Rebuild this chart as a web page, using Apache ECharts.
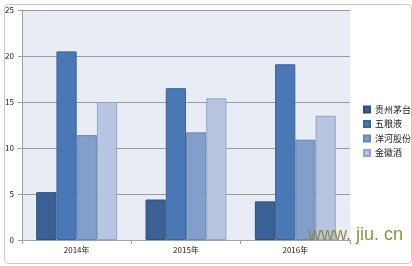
<!DOCTYPE html>
<html><head><meta charset="utf-8">
<script src="https://cdn.jsdelivr.net/npm/echarts@6/dist/echarts.min.js"></script>
<style>html,body{margin:0;padding:0;background:#fff}#c{width:412px;height:266px}</style>
</head><body><div id="c"></div>
<script>
const categories = ['2014年', '2015年', '2016年'];
const seriesNames = ['贵州茅台', '五粮液', '洋河股份', '金徽酒'];
const moutai = [5.2, 4.4, 4.2];
const wuliangye = [20.5, 16.5, 19.1];
const yanghe = [11.4, 11.7, 10.9];
const jinhui = [15.0, 15.4, 13.5];
const seriesValues = [moutai, wuliangye, yanghe, jinhui];
const colors = ['#3b6194', '#4a78b5', '#829ecb', '#b7c5e1'];
const borders = ['#2f4f7a', '#3c6498', '#6a86b3', '#93a5c6'];

const chart = echarts.init(document.getElementById('c'), null, {renderer: 'canvas'});
chart.setOption({
  animation: false,
  backgroundColor: '#ffffff',
  textStyle: {fontFamily: '"Noto Sans CJK SC", "DejaVu Sans", sans-serif'},
  graphic: [
    {type: 'rect', left: 2, top: 2, z: 0, shape: {width: 407, height: 259, r: 4}, style: {fill: 'none', stroke: '#c8c8c8', lineWidth: 1}},
    {type: 'text', right: 9, bottom: 22, z: 100, style: {text: 'www. jiu. cn', fill: '#8d8a3c', font: '18px "Liberation Sans", sans-serif', opacity: 0.95}}
  ],
  grid: {left: 22, right: 62, top: 10, bottom: 26, show: true, backgroundColor: '#e8ecf4', borderWidth: 0},
  legend: {
    orient: 'vertical', left: 358, top: 100, itemWidth: 6, itemHeight: 6, itemGap: 5.5,
    textStyle: {fontSize: 9, color: '#222'}, icon: 'rect',
    data: seriesNames
  },
  xAxis: {
    type: 'category', data: categories,
    axisLine: {lineStyle: {color: '#a0a0a0'}},
    axisTick: {show: true, length: 4, lineStyle: {color: '#a0a0a0'}},
    axisLabel: {fontSize: 8, color: '#222', margin: 6}
  },
  yAxis: {
    type: 'value', min: 0, max: 25, interval: 5,
    axisLine: {show: true, lineStyle: {color: '#a0a0a0'}},
    axisTick: {show: true, length: 4, lineStyle: {color: '#a0a0a0'}},
    axisLabel: {fontSize: 8, color: '#222', margin: 8},
    splitLine: {lineStyle: {color: '#9a9a9a', width: 1}}
  },
  series: seriesNames.map((n, i) => ({
    name: n, type: 'bar', data: seriesValues[i],
    barGap: '0%', barCategoryGap: '26%',
    itemStyle: {color: colors[i], borderColor: borders[i], borderWidth: 1}
  }))
});
</script></body></html>
